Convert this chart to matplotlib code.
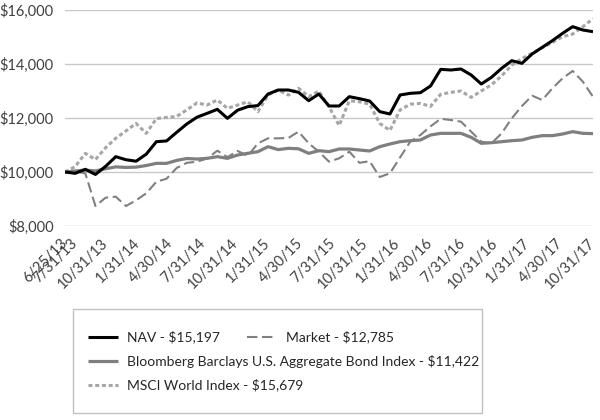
import numpy as np
import matplotlib
matplotlib.use("Agg")
import matplotlib.pyplot as plt
import matplotlib.transforms as mtransforms
from matplotlib.lines import Line2D
from matplotlib.patches import Rectangle

plt.rcParams['font.family'] = ['Lato', 'DejaVu Sans']

# x tick labels as printed on the chart
tick_labels = ["6/25/13", "7/31/13", "10/31/13", "1/31/14", "4/30/14", "7/31/14",
               "10/31/14", "1/31/15", "4/30/15", "7/31/15", "10/31/15", "1/31/16",
               "4/30/16", "7/31/16", "10/31/16", "1/31/17", "4/30/17", "10/31/17"]

# growth of $10,000, 53 monthly points (6/25/13 .. 10/31/17)
nav = [10000, 9951, 10099, 9910, 10210, 10568, 10455, 10400, 10660, 11123,
       11150, 11470, 11780, 12030, 12173, 12321, 11988, 12290, 12420, 12460,
       12889, 13037, 13037, 12950, 12642, 12889, 12444, 12444, 12790, 12716,
       12630, 12235, 12148, 12852, 12914, 12938, 13185, 13802, 13778, 13815,
       13593, 13259, 13506, 13840, 14123, 14025, 14370, 14617, 14864, 15136,
       15383, 15259, 15197]

market = [10000, 10020, 9950, 8740, 9049, 9086, 8740, 8950, 9210, 9640,
          9750, 10150, 10340, 10380, 10500, 10790, 10550, 10780, 10600, 11060,
          11247, 11247, 11260, 11494, 11062, 10753, 10383, 10506, 10753, 10340,
          10400, 9815, 9951, 10540, 11123, 11370, 11690, 11970, 11926, 11864,
          11494, 11123, 11062, 11432, 11988, 12444, 12827, 12667, 13099, 13469,
          13741, 13346, 12785]

bond = [10000, 10040, 10070, 10040, 10120, 10190, 10170, 10180, 10240, 10320,
        10320, 10430, 10500, 10480, 10506, 10568, 10506, 10630, 10691, 10753,
        10938, 10830, 10877, 10860, 10691, 10790, 10753, 10852, 10852, 10815,
        10778, 10938, 11037, 11123, 11160, 11185, 11370, 11432, 11432, 11432,
        11284, 11062, 11086, 11123, 11160, 11185, 11284, 11346, 11346, 11407,
        11494, 11432, 11422]

msci = [10000, 10200, 10690, 10460, 10900, 11250, 11520, 11800, 11430, 11980,
        12020, 12060, 12300, 12560, 12480, 12667, 12358, 12480, 12600, 12235,
        12850, 13037, 12850, 13099, 12790, 13000, 12420, 11720, 12640, 12600,
        12510, 11800, 11540, 12300, 12510, 12540, 12430, 12880, 12950, 13000,
        12765, 13000, 13230, 13560, 13960, 14200, 14400, 14600, 14800, 15010,
        15110, 15380, 15679]

labels = ["NAV - $15,197", "Market - $12,785",
          "Bloomberg Barclays U.S. Aggregate Bond Index - $11,422",
          "MSCI World Index - $15,679"]

x = np.arange(len(nav))

fig = plt.figure(figsize=(6, 4.2), dpi=100)
ax = fig.add_axes([65/600, 1-226/420, 528/600, 216/420])

st_msci = dict(color='#a6a6a6', lw=2.2, dashes=(1.3, 0.9), dash_capstyle='butt')
st_bond = dict(color='#7f7f7f', lw=2.3, solid_capstyle='butt')
st_mkt = dict(color='#808080', lw=1.5, dashes=(5, 2.2), dash_capstyle='butt')
st_nav = dict(color='black', lw=2.2, solid_capstyle='butt')

ax.plot(x, msci, zorder=2, **st_msci)
ax.plot(x, bond, zorder=3, **st_bond)
ax.plot(x, market, zorder=4, **st_mkt)
ax.plot(x, nav, zorder=5, **st_nav)

ax.set_xlim(0, len(nav)-1)
ax.set_ylim(8000, 16000)
ax.set_yticks(np.arange(8000, 16001, 2000))
ax.set_yticklabels(["${:,}".format(v) for v in range(8000, 16001, 2000)])
ax.grid(axis='y', color='#c8c8c8', lw=1.0)
ax.set_axisbelow(True)
for s in ax.spines.values():
    s.set_visible(False)

tick_pos = [0, 1] + list(np.linspace(4, len(nav)-1, 16))
ax.set_xticks(tick_pos)
ax.set_xticklabels(tick_labels, rotation=45, ha='right', rotation_mode='anchor')
ax.tick_params(axis='both', length=0, labelsize=10.5, colors='#404040')
ax.tick_params(axis='x', pad=7)
ax.tick_params(axis='y', pad=8)
shift = mtransforms.ScaledTranslation(-5/100, 0, fig.dpi_scale_trans)
for lab in ax.get_xticklabels():
    lab.set_transform(lab.get_transform() + shift)

# legend drawn by hand (Excel style layout)
lg = fig.add_axes([0, 0, 1, 1])
lg.set_xlim(0, 600)
lg.set_ylim(420, 0)
lg.axis('off')
lg.add_patch(Rectangle((73, 309), 409, 104, fill=False, edgecolor='#c0c0c0', lw=1.0))
rows = [(88, 337, st_nav, labels[0]), (247, 337, st_mkt, labels[1]),
        (88, 361, st_bond, labels[2]), (88, 385, st_msci, labels[3])]
for hx, hy, st, txt in rows:
    lg.add_line(Line2D([hx, hx+30], [hy, hy], **st))
    lg.text(hx+39, hy, txt, va='center', ha='left', fontsize=10, color='#262626')

fig.savefig("out.png", dpi=100)
